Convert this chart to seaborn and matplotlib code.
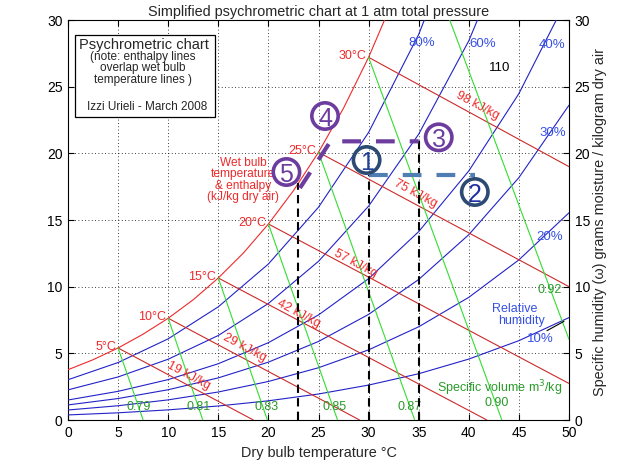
import matplotlib
matplotlib.use("Agg")
import matplotlib.pyplot as plt
from matplotlib.patches import Rectangle
import numpy as np
import pandas as pd
import seaborn as sns

# ---------------- data ----------------
T_grid = [0, 5, 10, 15, 20, 25, 30, 35, 40, 45, 50]
rh_levels = [10, 20, 30, 40, 60, 80]
rh10 = [0.38, 0.54, 0.76, 1.05, 1.44, 1.95, 2.62, 3.47, 4.57, 5.95, 7.68]
rh20 = [0.75, 1.07, 1.51, 2.10, 2.89, 3.92, 5.26, 6.99, 9.20, 12.01, 15.54]
rh30 = [1.13, 1.61, 2.27, 3.16, 4.34, 5.89, 7.92, 10.54, 13.90, 18.18, 23.61]
rh40 = [1.50, 2.15, 3.03, 4.22, 5.80, 7.88, 10.60, 14.13, 18.68, 24.48, 31.88]
rh60 = [2.26, 3.23, 4.56, 6.34, 8.74, 11.90, 16.04, 21.44, 28.44, 37.46]
rh80 = [3.02, 4.31, 6.09, 8.49, 11.70, 15.96, 21.57, 28.92, 38.50]
rh_curves = [rh10, rh20, rh30, rh40, rh60, rh80]

T_sat = [0, 2.5, 5, 7.5, 10, 12.5, 15, 17.5, 20, 22.5, 25, 27.5, 30, 32.5]
w_sat = [3.77, 4.52, 5.40, 6.44, 7.63, 9.02, 10.65, 12.52, 14.70, 17.20,
         20.08, 23.39, 27.20, 31.60]

sat_pt_T = [5, 10, 15, 20, 25, 30]
sat_pt_w = [5.40, 7.63, 10.65, 14.70, 20.08, 27.20]
sat_labels = ["5°C", "10°C", "15°C", "20°C", "25°C", "30°C"]

# wet bulb / enthalpy lines
h_end_T = [18.5, 29.1, 41.8, 50.0, 50.0, 50.0]
h_end_w = [0.0, 0.0, 0.0, 2.74, 10.0, 19.0]
h_labels = ["19 kJ/kg", "29 kJ/kg", "42 kJ/kg", "57 kJ/kg", "75 kJ/kg", "98 kJ/kg"]
h_lab_T = [12.0, 17.6, 23.0, 28.7, 34.7, 40.9]
h_lab_w = [3.35, 5.4, 7.95, 11.7, 17.0, 23.55]

# specific volume lines
v_start_T = [5, 10, 15, 20, 25, 30, 38.1]
v_start_w = [5.40, 7.63, 10.65, 14.70, 20.08, 27.20, 30.0]
v_end_T = [7.5, 13.45, 19.9, 26.9, 34.6, 43.3, 50.0]
v_end_w = [0, 0, 0, 0, 0, 0, 6.05]
v_labels = ["0.79", "0.81", "0.83", "0.85", "0.87", "0.90", "0.92"]
v_lab_T = [7.05, 13.0, 19.8, 26.6, 34.1, 42.8, 48.1]
v_lab_w = [1.0, 1.0, 1.0, 1.0, 1.0, 1.25, 9.75]

rh_labels = ["80%", "60%", "40%", "30%", "20%", "10%"]
rh_lab_T = [35.3, 41.4, 48.3, 48.4, 48.1, 47.1]
rh_lab_w = [28.25, 28.2, 28.1, 21.5, 13.75, 6.1]

# process lines
vert_T = [23, 30, 35]
vert_top = [17.8, 18.4, 21.0]
purple_T = [23.15, 26.2, 35.0]
purple_w = [17.4, 20.9, 20.9]
steel_T = [30.0, 40.6]
steel_w = [18.4, 18.4]

circ_labels = ["1", "2", "3", "4", "5"]
circ_T = [29.8, 40.6, 37.0, 25.65, 21.8]
circ_w = [19.5, 17.1, 21.2, 22.8, 18.6]

# ---------------- style ----------------
sns.set_theme(style="ticks")
plt.rcParams["font.family"] = ["Liberation Sans", "DejaVu Sans"]

RED = "#ee2a2a"
DRED = "#cc2a2a"
BLUE = "#2222c8"
LBLUE = "#3650e6"
GREEN = "#33dd33"
DGREEN = "#2a9a2a"
PURPLE = "#6c3c9e"
STEEL = "#4f7fb2"
NAVY = "#2c4a72"

fig = plt.figure(figsize=(6.18, 4.62), dpi=100)
ax = fig.add_axes([68 / 618, 42 / 462, 501 / 618, 400 / 462])
ax.set_xlim(0, 50)
ax.set_ylim(0, 30)

# RH curves via seaborn
rows = []
for lvl, curve in zip(rh_levels, rh_curves):
    for t, w in zip(T_grid[:len(curve)], curve):
        rows.append({"T": t, "w": w, "rh": lvl})
df = pd.DataFrame(rows)
sns.lineplot(data=df, x="T", y="w", hue="rh", units="rh", estimator=None,
             palette={l: BLUE for l in rh_levels}, legend=False, lw=0.8,
             sort=False, ax=ax, zorder=3)

# saturation curve
sns.lineplot(x=T_sat, y=w_sat, color=RED, lw=0.8, ax=ax, sort=False, zorder=3)

# enthalpy lines
for t0, w0, t1, w1 in zip(sat_pt_T, sat_pt_w, h_end_T, h_end_w):
    ax.plot([t0, t1], [w0, w1], color=DRED, lw=0.8, zorder=3)
# specific volume lines
for t0, w0, t1, w1 in zip(v_start_T, v_start_w, v_end_T, v_end_w):
    ax.plot([t0, t1], [w0, w1], color=GREEN, lw=0.8, zorder=3)

# angle of enthalpy lines on screen
fig.canvas.draw()
p0 = ax.transData.transform((sat_pt_T[0], sat_pt_w[0]))
p1 = ax.transData.transform((h_end_T[0], h_end_w[0]))
ang = np.degrees(np.arctan2(p1[1] - p0[1], p1[0] - p0[0]))

for lab, t, w in zip(h_labels, h_lab_T, h_lab_w):
    ax.text(t, w, lab, color=RED, fontsize=9, rotation=ang, rotation_mode="anchor",
            ha="center", va="center", zorder=5)
for lab, t, w in zip(sat_labels, sat_pt_T, sat_pt_w):
    ax.text(t - 0.2, w + 0.1, lab, color=RED, fontsize=9, ha="right", va="center", zorder=5)
for lab, t, w in zip(v_labels, v_lab_T, v_lab_w):
    ax.text(t, w, lab, color=DGREEN, fontsize=9, ha="center", va="center", zorder=5)
for lab, t, w in zip(rh_labels, rh_lab_T, rh_lab_w):
    ax.text(t, w, lab, color=LBLUE, fontsize=9.5, ha="center", va="center", zorder=5)

ax.text(43.1, 2.4, "Specific volume m$^3$/kg", color=DGREEN, fontsize=9,
        ha="center", va="center", zorder=5)
ax.text(44.6, 8.3, "Relative", color=LBLUE, fontsize=9, ha="center", va="center", zorder=5)
ax.text(45.3, 7.4, "humidity", color=LBLUE, fontsize=9, ha="center", va="center", zorder=5)
ax.plot([47.8, 49.5], [6.7, 7.4], color="black", lw=0.8, zorder=4)
ax.text(43.1, 26.4, "110", color="black", fontsize=9.5, ha="center", va="center", zorder=5)
ax.text(17.5, 18.0, "Wet bulb\ntemperature\n& enthalpy\n(kJ/kg dry air)", color=RED,
        fontsize=8.6, ha="center", va="center", linespacing=0.95, zorder=5)

# info box
ax.add_patch(Rectangle((0.014, 0.7575), 0.279, 0.205, transform=ax.transAxes,
                       facecolor="white", edgecolor="black", lw=0.9, zorder=6))
ax.text(0.152, 0.9375, "Psychrometric chart", transform=ax.transAxes, fontsize=10.5,
        ha="center", va="center", zorder=7)
for yy, s in zip([0.9075, 0.879, 0.85], ["(note: enthalpy lines", "overlap wet bulb",
                                          "temperature lines )"]):
    ax.text(0.150, yy, s, transform=ax.transAxes, fontsize=8.5, ha="center",
            va="center", zorder=7)
ax.text(0.158, 0.7825, "Izzi Urieli - March 2008", transform=ax.transAxes, fontsize=8.5,
        ha="center", va="center", zorder=7)

# process lines
for t, top in zip(vert_T, vert_top):
    ax.plot([t, t], [0, top], color="black", lw=1.5, dashes=(4, 2.5), zorder=6)
ax.plot(purple_T, purple_w, color=PURPLE, lw=3, dashes=(4.5, 3.6), zorder=7,
        dash_capstyle="butt")
ax.plot(steel_T, steel_w, color=STEEL, lw=3, dashes=(4.5, 3.6), zorder=7,
        dash_capstyle="butt")

ring_cols = [NAVY, NAVY, PURPLE, PURPLE, PURPLE]
text_cols = ["#23429a", "#1f2fa0", PURPLE, PURPLE, PURPLE]
ax.scatter(circ_T, circ_w, s=360, facecolors="none", edgecolors=ring_cols,
           linewidths=2.6, zorder=8)
for lab, t, w, c in zip(circ_labels, circ_T, circ_w, text_cols):
    ax.text(t, w, lab, color=c, fontsize=18, ha="center", va="center_baseline", zorder=9)

# axes styling
ax.set_xticks(range(0, 51, 5))
ax.set_yticks(range(0, 31, 5))
ax.grid(True, color="black", ls=(0, (1, 3)), lw=0.6)
ax.tick_params(direction="in", length=4, width=0.8, colors="black", labelsize=10,
               top=True, right=True, labelright=True, pad=4)
for sp in ax.spines.values():
    sp.set_visible(True)
    sp.set_color("black")
    sp.set_linewidth(0.8)
ax.set_xlabel("")
ax.set_ylabel("")

fig.text(318.5 / 618, 1 - 12 / 462, "Simplified psychrometric chart at 1 atm total pressure",
         ha="center", va="center", fontsize=10.4)
fig.text(318.5 / 618, 1 - 460 / 462, "Dry bulb temperature °C", ha="center", va="bottom",
         fontsize=10.4)
fig.text(600 / 618, 1 - 222 / 462,
         "Specific humidity (ω) grams moisture / kilogram dry air",
         rotation=90, ha="center", va="center", fontsize=10.4)

fig.savefig("out.png", dpi=100, facecolor="white")
